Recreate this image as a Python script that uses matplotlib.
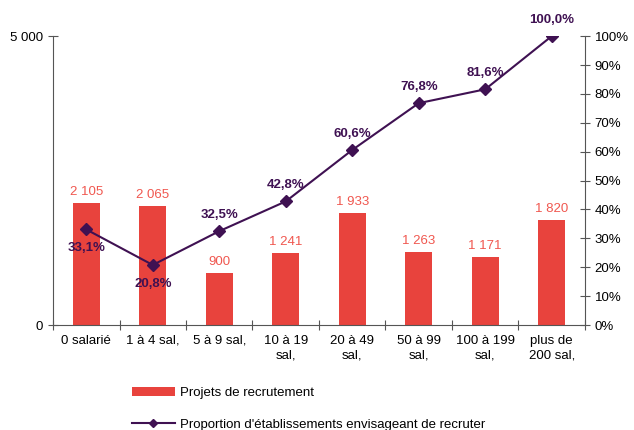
import matplotlib
matplotlib.use("Agg")
import matplotlib.pyplot as plt
from matplotlib.lines import Line2D
import numpy as np

plt.rcParams['font.family'] = ['Liberation Sans', 'DejaVu Sans']

categories = ["0 salarié", "1 à 4 sal,", "5 à 9 sal,", "10 à 19\nsal,", "20 à 49\nsal,",
              "50 à 99\nsal,", "100 à 199\nsal,", "plus de\n200 sal,"]
projets = [2105, 2065, 900, 1241, 1933, 1263, 1171, 1820]
proportion = [33.1, 20.8, 32.5, 42.8, 60.6, 76.8, 81.6, 100.0]
projets_labels = ["2 105", "2 065", "900", "1 241", "1 933", "1 263", "1 171", "1 820"]
prop_labels = ["33,1%", "20,8%", "32,5%", "42,8%", "60,6%", "76,8%", "81,6%", "100,0%"]
# label below the point for the first two, above for the rest
below = [True, True, False, False, False, False, False, False]

bar_color = "#E8433D"
lab_color = "#F0574F"
line_color = "#3F1152"
axis_color = "#555555"
fs = 9.5

fig = plt.figure(figsize=(6.34, 4.30), dpi=100)
ax = fig.add_axes([0.0836, 0.244, 0.8391, 0.672])
ax2 = ax.twinx()

x = np.arange(len(categories))
bars = ax.bar(x, projets, width=0.4, color=bar_color, zorder=2)
for xi, v, t in zip(x, projets, projets_labels):
    ax.text(xi, v + 90, t, ha="center", va="bottom", color=lab_color, fontsize=fs)

ax.set_xlim(-0.5, len(categories) - 0.5)
ax.set_ylim(0, 5000)
ax.set_yticks([0, 5000])
ax.set_yticklabels(["0", "5 000"])
ax.set_xticks(np.arange(-0.5, len(categories)))
ax.set_xticklabels([])
ax.set_xticks(x, minor=True)
ax.set_xticklabels(categories, minor=True, fontsize=fs, linespacing=1.35)
ax.tick_params(axis="x", which="minor", length=0, pad=7)
ax.tick_params(axis="x", which="major", direction="inout", length=7, color=axis_color)
ax.tick_params(axis="y", direction="inout", length=7, color=axis_color, labelsize=fs)

ax2.plot(x, proportion, color=line_color, lw=1.5, marker="D", markersize=6, zorder=3)
for xi, v, t, b in zip(x, proportion, prop_labels, below):
    if b:
        ax2.text(xi, v - 4.5, t, ha="center", va="top", color=line_color,
                 fontsize=fs, fontweight="bold")
    else:
        ax2.text(xi, v + 3.5, t, ha="center", va="bottom", color=line_color,
                 fontsize=fs, fontweight="bold")
ax2.set_ylim(0, 100)
ax2.set_yticks(np.arange(0, 101, 10))
ax2.set_yticklabels([f"{v}%" for v in range(0, 101, 10)])
ax2.tick_params(axis="y", direction="inout", length=7, color=axis_color, labelsize=fs)

for a in (ax, ax2):
    a.spines["top"].set_visible(False)
    for s in ("left", "right", "bottom"):
        a.spines[s].set_color(axis_color)
ax.spines["right"].set_visible(False)
ax2.spines["left"].set_visible(False)
ax2.spines["bottom"].set_visible(False)

leg_line = Line2D([], [], color=line_color, lw=1.5, marker="D", markersize=4)
fig.legend([bars, leg_line], ["Projets de recrutement", "Proportion d'établissements envisageant de recruter"],
           loc="lower left", bbox_to_anchor=(0.19, -0.03), frameon=False, fontsize=fs,
           handlelength=3.2, labelspacing=1.5, handletextpad=0.4)

fig.savefig("out.png", dpi=100)
